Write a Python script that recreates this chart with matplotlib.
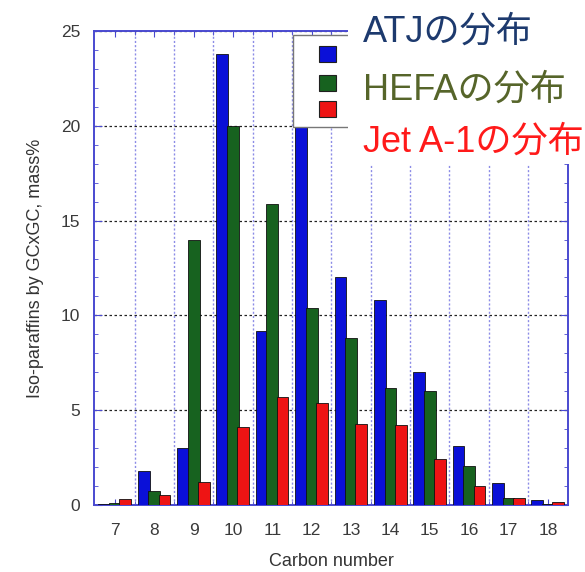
import matplotlib
matplotlib.use("Agg")
import matplotlib.pyplot as plt
from matplotlib.patches import Rectangle
import numpy as np

# carbon number distribution of iso-paraffins (mass%)
carbon = [7, 8, 9, 10, 11, 12, 13, 14, 15, 16, 17, 18]
atj = [0.05, 1.8, 3.0, 23.8, 9.2, 20.0, 12.0, 10.8, 7.0, 3.1, 1.15, 0.25]
hefa = [0.1, 0.75, 14.0, 20.0, 15.9, 10.4, 8.8, 6.15, 6.0, 2.05, 0.35, 0.05]
jet = [0.3, 0.55, 1.2, 4.1, 5.7, 5.4, 4.25, 4.2, 2.4, 1.0, 0.35, 0.15]

labels = ["ATJの分布", "HEFAの分布", "Jet A-1の分布"]
colors = ["#0a10d8", "#17621f", "#ee1414"]
text_colors = ["#1d3a6e", "#56652a", "#ff1a1a"]

W, H = 585, 572
fig = plt.figure(figsize=(W / 100, H / 100), dpi=100)

def fx(px):
    return px / W

def fy(py):
    return 1 - py / H

ax = fig.add_axes([fx(94), fy(505), fx(568) - fx(94), fy(31) - fy(505)])

x = np.array(carbon, dtype=float)
for off, vals, c in zip([-0.27, 0.0, 0.26], [atj, hefa, jet], colors):
    ax.bar(x + off, vals, width=0.3, color=c, edgecolor="#101010",
           linewidth=0.6, zorder=3)

ax.set_xlim(6.47, 18.51)
ax.set_ylim(0, 25)
ax.set_xticks(carbon)
ax.set_xticks(np.arange(7.5, 18, 1.0), minor=True)
ax.set_yticks([0, 5, 10, 15, 20, 25])
ax.set_yticks(np.arange(0, 26, 1), minor=True)

axis_col = "#4a4ad0"
for s in ax.spines.values():
    s.set_color(axis_col)
    s.set_linewidth(1.4)

ax.tick_params(which="both", direction="in", top=True, right=True,
               color=axis_col, labelcolor="#3a3a3a", labelsize=12.5)
ax.tick_params(axis="x", which="major", length=4, pad=13)
ax.tick_params(axis="y", which="major", length=6, pad=10)
ax.tick_params(which="minor", length=3)

ax.grid(axis="y", which="major", color="#222222", linestyle=(0, (2, 2)),
        linewidth=0.9, zorder=1)
ax.grid(axis="x", which="minor", color="#8c8ce6", linestyle=(0, (1.5, 1.5)),
        linewidth=1.0, zorder=1)

ax.set_ylabel("Iso-paraffins by GCxGC, mass%", fontsize=13, color="#333333",
              labelpad=12, fontfamily="Liberation Sans")
fig.text(fx(331), fy(561), "Carbon number", fontsize=13, color="#333333",
         ha="center", va="center", family="Liberation Sans")

for t in ax.get_xticklabels() + ax.get_yticklabels():
    t.set_fontfamily("Liberation Sans")

# legend box
fig.add_artist(Rectangle((fx(293), fy(127)), fx(700) - fx(293), fy(35) - fy(127),
                         transform=fig.transFigure, facecolor="white",
                         edgecolor="#777777", linewidth=1.0, zorder=5))
for yc, c in zip([54, 83, 109], colors):
    fig.add_artist(Rectangle((fx(319), fy(yc + 8)), fx(17), 16 / H,
                             transform=fig.transFigure, facecolor=c,
                             edgecolor="#202020", linewidth=0.8, zorder=6))

# white overlay with the big labels
fig.add_artist(Rectangle((fx(348), fy(164)), fx(260), 164 / H,
                         transform=fig.transFigure, facecolor="white",
                         edgecolor="none", zorder=7))
for yb, lab, c in zip([42, 100, 152], labels, text_colors):
    fig.text(fx(363), fy(yb), lab, color=c, fontsize=26, zorder=8,
             family=["Liberation Sans", "Noto Sans CJK JP"], va="baseline")

fig.savefig("out.png", dpi=100)
